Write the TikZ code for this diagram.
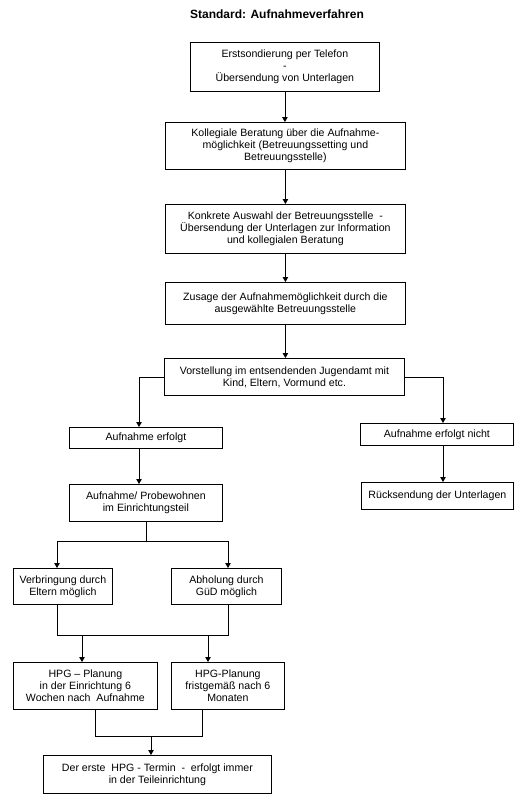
\documentclass[tikz,border=0pt]{standalone}
\usepackage{fontspec}
\setmainfont{Liberation Sans}
\usetikzlibrary{arrows.meta}
\begin{document}
\begin{tikzpicture}[x=1pt,y=-1pt,
  box/.style={draw, line width=0.8pt, anchor=north west, inner sep=0pt, align=center,
    font=\fontsize{10.6}{12}\selectfont},
  con/.style={line width=0.8pt},
  arr/.style={line width=0.8pt, -{Triangle[width=5.5pt,length=5pt]}}]
\useasboundingbox[fill=white] (0,0) rectangle (529,806);
\node[font=\fontsize{12}{14}\selectfont\bfseries] (title) at (277,14) {Standard: Aufnahmeverfahren};
\node[box, minimum width=189pt, minimum height=49pt] (b1) at (190,42)
  {Erstsondierung per Telefon\\-\\Übersendung von Unterlagen};
\node[box, minimum width=240pt, minimum height=47pt] (b2) at (165,122)
  {Kollegiale Beratung über die Aufnahme-\\möglichkeit (Betreuungssetting und\\Betreuungsstelle)};
\node[box, minimum width=240pt, minimum height=49pt] (b3) at (165,204)
  {Konkrete Auswahl der Betreuungsstelle\ \ -\\Übersendung der Unterlagen zur Information\\und kollegialen Beratung};
\node[box, minimum width=240pt, minimum height=42pt] (b4) at (165,282)
  {Zusage der Aufnahmemöglichkeit durch die\\ausgewählte Betreuungsstelle};
\node[box, minimum width=240pt, minimum height=37pt] (b5) at (164,358)
  {Vorstellung im entsendenden Jugendamt mit\\Kind, Eltern, Vormund etc.};
\node[box, minimum width=153pt, minimum height=21pt] (ae) at (69,427) {Aufnahme erfolgt};
\node[box, minimum width=153pt, minimum height=22pt] (aen) at (360,423) {Aufnahme erfolgt nicht};
\node[box, minimum width=153pt, minimum height=37pt] (pw) at (69,484)
  {Aufnahme/ Probewohnen\\im Einrichtungsteil};
\node[box, minimum width=152pt, minimum height=27pt] (rs) at (361,482) {Rücksendung der Unterlagen};
\node[box, minimum width=99pt, minimum height=36pt] (vb) at (13,568)
  {Verbringung durch\\Eltern möglich};
\node[box, minimum width=110pt, minimum height=36pt] (ab) at (171,568)
  {Abholung durch\\GüD möglich};
\node[box, minimum width=144pt, minimum height=47pt] (h1) at (13,662)
  {HPG – Planung\\in der Einrichtung 6\\Wochen nach\ \ Aufnahme};
\node[box, minimum width=113pt, minimum height=47pt] (h2) at (171,662)
  {HPG-Planung\\fristgemäß nach 6\\Monaten};
\node[box, minimum width=228pt, minimum height=38pt] (fin) at (43,755)
  {Der erste\ \ HPG - Termin\ \ -\ \ erfolgt immer\\in der Teileinrichtung};
% coordinates
\coordinate (aeIn) at (139,427);
\coordinate (aeOut) at (139,448);
\coordinate (pwIn) at (139,484);
\coordinate (aenIn) at (443,423);
\coordinate (aenOut) at (443,445);
\coordinate (rsIn) at (443,482);
\coordinate (pwOut) at (146,521);
\coordinate (split1) at (146,541);
\coordinate (vbIn) at (57,568);
\coordinate (abIn) at (228,568);
\coordinate (vbOut) at (57,604);
\coordinate (abOut) at (228,604);
\coordinate (j1L) at (57,635);
\coordinate (j1R) at (228,635);
\coordinate (h1Src) at (82,635);
\coordinate (h2Src) at (208,635);
\coordinate (h1In) at (82,662);
\coordinate (h2In) at (208,662);
\coordinate (h1Out) at (95,709);
\coordinate (h2Out) at (202,709);
\coordinate (j2L) at (95,736);
\coordinate (j2R) at (202,736);
\coordinate (finSrc) at (151,736);
\coordinate (finIn) at (151,755);
% connectors
\draw[arr] (b1.south) -- (b1.south |- b2.north);
\draw[arr] (b2.south) -- (b2.south |- b3.north);
\draw[arr] (b3.south) -- (b3.south |- b4.north);
\draw[arr] (b4.south) -- (b4.south |- b5.north);
\draw[arr] (b5.west) -| (aeIn);
\draw[arr] (b5.east) -| (aenIn);
\draw[arr] (aeOut) -- (pwIn);
\draw[arr] (aenOut) -- (rsIn);
\draw[con] (pwOut) -- (split1);
\draw[arr] (split1) -| (vbIn);
\draw[arr] (split1) -| (abIn);
\draw[con] (vbOut) -- (j1L) -- (j1R) -- (abOut);
\draw[arr] (h1Src) -- (h1In);
\draw[arr] (h2Src) -- (h2In);
\draw[con] (h1Out) -- (j2L) -- (j2R) -- (h2Out);
\draw[arr] (finSrc) -- (finIn);
\end{tikzpicture}
\end{document}
